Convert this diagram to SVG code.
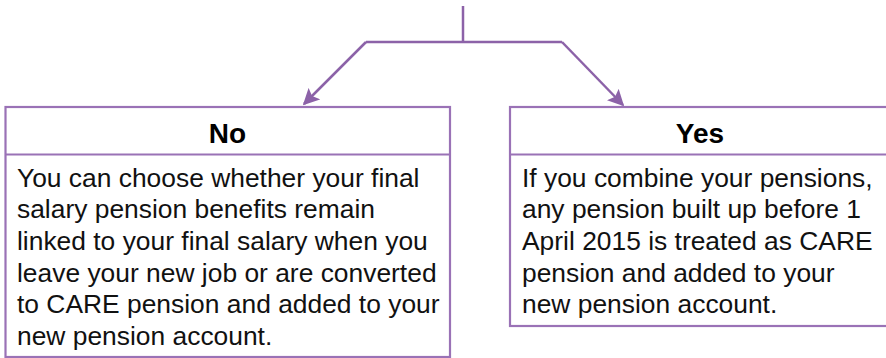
<svg xmlns="http://www.w3.org/2000/svg" width="886" height="358" viewBox="0 0 886 358">
<defs>
<marker id="arr" viewBox="0 0 10 10" refX="9" refY="5" markerWidth="6.5" markerHeight="6.5" markerUnits="strokeWidth" orient="auto">
<path d="M0,0 L10,5 L0,10 L2,5 z" fill="#8c62a8"/>
</marker>
<style>
.box{fill:#fff;stroke:#9a72b6;stroke-width:2.2}
.div{stroke:#9a72b6;stroke-width:2.2}
.conn{fill:none;stroke:#8c62a8;stroke-width:2.5}
.hd{font-family:"Liberation Sans",Arial,sans-serif;font-weight:bold;font-size:28px;fill:#000;text-anchor:middle}
.bd{font-family:"Liberation Sans",Arial,sans-serif;font-size:26.4px;fill:#111}
</style>
</defs>
<rect width="886" height="358" fill="#fff"/>
<g id="connectors">
<path class="conn" d="M463,6 V42"/>
<path class="conn" d="M366,42 H562"/>
<path class="conn" d="M366,42 L304,104" marker-end="url(#arr)"/>
<path class="conn" d="M562,42 L623,105" marker-end="url(#arr)"/>
</g>
<g id="node-no">
<rect class="box" x="5.5" y="107" width="444.5" height="250"/>
<line class="div" x1="5.5" y1="154.5" x2="450" y2="154.5"/>
<text class="hd" x="227.5" y="143">No</text>
<text class="bd" x="17" y="186.7">You can choose whether your final</text>
<text class="bd" x="17" y="218.3">salary pension benefits remain</text>
<text class="bd" x="17" y="250">linked to your final salary when you</text>
<text class="bd" x="17" y="281.7">leave your new job or are converted</text>
<text class="bd" x="17" y="313.3">to CARE pension and added to your</text>
<text class="bd" x="17" y="345">new pension account.</text>
</g>
<g id="node-yes">
<rect class="box" x="510" y="107" width="380" height="219"/>
<line class="div" x1="510" y1="154.5" x2="890" y2="154.5"/>
<text class="hd" x="700" y="143">Yes</text>
<text class="bd" x="522" y="186.7">If you combine your pensions,</text>
<text class="bd" x="522" y="218.3">any pension built up before 1</text>
<text class="bd" x="522" y="250">April 2015 is treated as CARE</text>
<text class="bd" x="522" y="281.7">pension and added to your</text>
<text class="bd" x="522" y="313.3">new pension account.</text>
</g>
</svg>
